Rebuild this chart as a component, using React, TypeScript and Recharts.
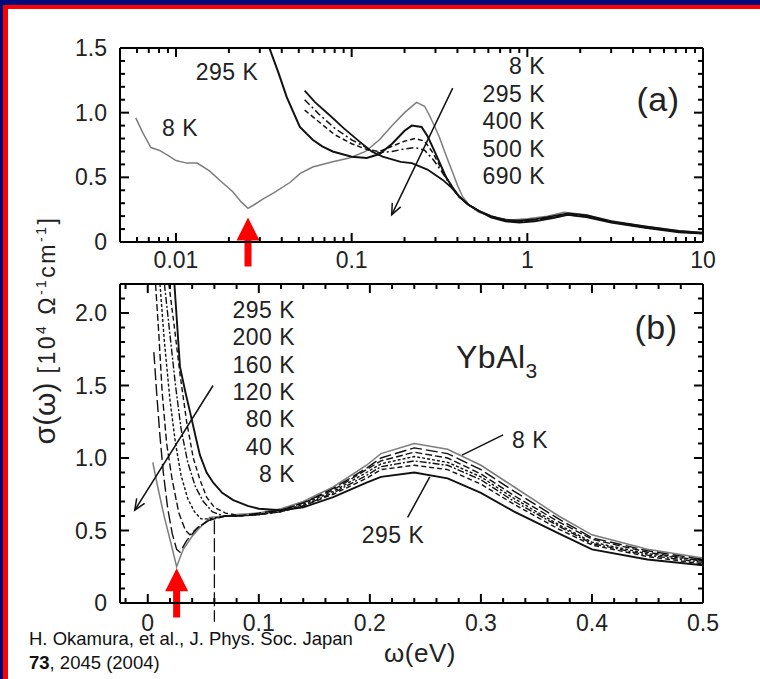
import React from 'react';
import { LineChart, Line, XAxis, YAxis, ReferenceLine } from 'recharts';

const FONT = "'Liberation Sans', Arial, Helvetica, sans-serif";
const INK = '#111';
const GRAY = '#7d7d7d';

// ---- panel (a): log energy axis ----
const aXDomain = [0.0048, 10];
const aYDomain = [0, 1.5];
const aXTicks = [0.006, 0.007, 0.008, 0.009, 0.01, 0.02, 0.03, 0.04, 0.05, 0.06, 0.07, 0.08, 0.09, 0.1, 0.2, 0.3, 0.4, 0.5, 0.6, 0.7, 0.8, 0.9, 1, 2, 3, 4, 5, 6, 7, 8, 9, 10];
const aXMajor = [0.01, 0.1, 1, 10];
const aYTicks = [0, 0.1, 0.2, 0.3, 0.4, 0.5, 0.6, 0.7, 0.8, 0.9, 1, 1.1, 1.2, 1.3, 1.4, 1.5];
const aYMajor = [0, 0.5, 1, 1.5];

const a8K = [[0.0059, 0.96], [0.0065, 0.84], [0.0072, 0.73], [0.008, 0.71], [0.009, 0.67], [0.01, 0.63], [0.0115, 0.61], [0.0132, 0.61], [0.0155, 0.55], [0.018, 0.47], [0.021, 0.39], [0.0235, 0.31], [0.0257, 0.26], [0.028, 0.29], [0.031, 0.33], [0.036, 0.38], [0.0445, 0.46], [0.051, 0.53], [0.06, 0.58], [0.078, 0.62], [0.097, 0.65], [0.12, 0.7], [0.144, 0.79], [0.17, 0.9], [0.2, 1.0], [0.234, 1.08], [0.26, 1.05], [0.277, 0.98], [0.3, 0.88], [0.316, 0.81], [0.34, 0.69], [0.37, 0.56], [0.4, 0.44], [0.428, 0.35], [0.47, 0.28], [0.53, 0.23], [0.66, 0.19], [0.8, 0.17], [1.0, 0.18], [1.3, 0.2], [1.62, 0.23], [2.15, 0.21], [2.9, 0.16], [4.7, 0.12], [7.3, 0.085], [10, 0.075]];
const a295K = [[0.034, 1.5], [0.0385, 1.3], [0.0427, 1.12], [0.0507, 0.89], [0.06, 0.79], [0.068, 0.74], [0.078, 0.7], [0.1, 0.66], [0.122, 0.65], [0.144, 0.68], [0.17, 0.76], [0.2, 0.86], [0.22, 0.9], [0.25, 0.89], [0.27, 0.82], [0.29, 0.73], [0.32, 0.6], [0.345, 0.5], [0.38, 0.41], [0.41, 0.35], [0.46, 0.29], [0.53, 0.24], [0.62, 0.2], [0.75, 0.17], [0.9, 0.165], [1.1, 0.175], [1.4, 0.2], [1.7, 0.22], [2.2, 0.205], [3, 0.16], [4.7, 0.12], [7.3, 0.085], [10, 0.07]];
const a400K = [[0.054, 1.02], [0.065, 0.93], [0.08, 0.83], [0.1, 0.76], [0.125, 0.71], [0.144, 0.7], [0.17, 0.74], [0.2, 0.78], [0.23, 0.8], [0.26, 0.78], [0.29, 0.69], [0.32, 0.58], [0.345, 0.5], [0.38, 0.41], [0.41, 0.35], [0.46, 0.29], [0.53, 0.24], [0.62, 0.2], [0.75, 0.17], [0.9, 0.16], [1.1, 0.17], [1.4, 0.195], [1.7, 0.215], [2.2, 0.2], [3, 0.16], [4.7, 0.115], [7.3, 0.08], [10, 0.07]];
const a500K = [[0.054, 1.1], [0.065, 0.99], [0.08, 0.88], [0.1, 0.79], [0.125, 0.72], [0.144, 0.69], [0.17, 0.7], [0.2, 0.72], [0.23, 0.73], [0.26, 0.71], [0.29, 0.64], [0.32, 0.56], [0.345, 0.49], [0.38, 0.41], [0.41, 0.35], [0.46, 0.29], [0.53, 0.24], [0.62, 0.195], [0.75, 0.165], [0.9, 0.155], [1.1, 0.165], [1.4, 0.19], [1.7, 0.21], [2.2, 0.195], [3, 0.155], [4.7, 0.11], [7.3, 0.08], [10, 0.065]];
const a690K = [[0.054, 1.17], [0.062, 1.08], [0.075, 0.98], [0.09, 0.88], [0.11, 0.78], [0.13, 0.7], [0.15, 0.66], [0.19, 0.62], [0.22, 0.61], [0.27, 0.56], [0.33, 0.48], [0.37, 0.42], [0.41, 0.35], [0.46, 0.29], [0.53, 0.24], [0.62, 0.19], [0.75, 0.16], [0.9, 0.15], [1.1, 0.16], [1.4, 0.185], [1.7, 0.21], [2.2, 0.19], [3, 0.15], [4.7, 0.11], [7.3, 0.075], [10, 0.065]];

// ---- panel (b): linear energy axis ----
const bXDomain = [-0.025, 0.5];
const bYDomain = [0, 2.2];
const bXTicks = [-0.02, 0, 0.02, 0.04, 0.06, 0.08, 0.1, 0.12, 0.14, 0.16, 0.18, 0.2, 0.22, 0.24, 0.26, 0.28, 0.3, 0.32, 0.34, 0.36, 0.38, 0.4, 0.42, 0.44, 0.46, 0.48, 0.5];
const bXMajor = [0, 0.1, 0.2, 0.3, 0.4, 0.5];
const bYTicks = [0, 0.1, 0.2, 0.3, 0.4, 0.5, 0.6, 0.7, 0.8, 0.9, 1, 1.1, 1.2, 1.3, 1.4, 1.5, 1.6, 1.7, 1.8, 1.9, 2, 2.1, 2.2];
const bYMajor = [0, 0.5, 1, 1.5, 2];

const b8K = [[0.0045, 0.97], [0.009, 0.8], [0.015, 0.59], [0.0216, 0.39], [0.026, 0.25], [0.032, 0.37], [0.04, 0.46], [0.047, 0.52], [0.056, 0.59], [0.07, 0.6], [0.08, 0.61], [0.1, 0.62], [0.12, 0.65], [0.14, 0.7], [0.167, 0.8], [0.197, 0.95], [0.21, 1.03], [0.24, 1.1], [0.27, 1.06], [0.3, 0.95], [0.33, 0.8], [0.37, 0.6], [0.4, 0.47], [0.45, 0.37], [0.5, 0.31]];
const b40K = [[0.0055, 1.73], [0.008, 1.45], [0.011, 1.15], [0.014, 0.9], [0.018, 0.65], [0.022, 0.48], [0.026, 0.37], [0.029, 0.35], [0.035, 0.43], [0.045, 0.52], [0.055, 0.57], [0.07, 0.6], [0.08, 0.6], [0.1, 0.62], [0.12, 0.64], [0.14, 0.69], [0.167, 0.79], [0.197, 0.93], [0.21, 1.0], [0.24, 1.07], [0.27, 1.03], [0.3, 0.92], [0.33, 0.77], [0.37, 0.58], [0.4, 0.45], [0.45, 0.36], [0.5, 0.3]];
const b80K = [[0.007, 2.2], [0.01, 1.85], [0.013, 1.45], [0.017, 1.1], [0.022, 0.85], [0.028, 0.62], [0.034, 0.5], [0.038, 0.47], [0.045, 0.52], [0.055, 0.57], [0.07, 0.6], [0.08, 0.6], [0.1, 0.61], [0.12, 0.64], [0.14, 0.69], [0.167, 0.78], [0.197, 0.92], [0.21, 0.98], [0.24, 1.04], [0.27, 1.0], [0.3, 0.89], [0.33, 0.74], [0.37, 0.56], [0.4, 0.44], [0.45, 0.35], [0.5, 0.29]];
const b120K = [[0.011, 2.2], [0.015, 1.8], [0.02, 1.4], [0.025, 1.1], [0.03, 0.88], [0.036, 0.72], [0.042, 0.63], [0.048, 0.58], [0.055, 0.58], [0.07, 0.6], [0.08, 0.6], [0.1, 0.61], [0.12, 0.63], [0.14, 0.68], [0.167, 0.77], [0.197, 0.9], [0.21, 0.96], [0.24, 1.01], [0.27, 0.97], [0.3, 0.87], [0.33, 0.72], [0.37, 0.54], [0.4, 0.42], [0.45, 0.34], [0.5, 0.29]];
const b160K = [[0.015, 2.2], [0.02, 1.85], [0.025, 1.5], [0.03, 1.2], [0.036, 0.97], [0.043, 0.8], [0.05, 0.7], [0.058, 0.63], [0.068, 0.6], [0.08, 0.6], [0.1, 0.61], [0.12, 0.63], [0.14, 0.67], [0.167, 0.76], [0.197, 0.88], [0.21, 0.94], [0.24, 0.98], [0.27, 0.95], [0.3, 0.85], [0.33, 0.7], [0.37, 0.53], [0.4, 0.41], [0.45, 0.33], [0.5, 0.28]];
const b200K = [[0.019, 2.2], [0.024, 1.9], [0.029, 1.58], [0.035, 1.25], [0.041, 1.0], [0.047, 0.85], [0.053, 0.73], [0.06, 0.66], [0.07, 0.62], [0.085, 0.6], [0.1, 0.61], [0.12, 0.63], [0.14, 0.67], [0.167, 0.75], [0.197, 0.86], [0.21, 0.92], [0.24, 0.95], [0.27, 0.92], [0.3, 0.82], [0.33, 0.68], [0.37, 0.51], [0.4, 0.4], [0.45, 0.32], [0.5, 0.27]];
const b295K = [[0.024, 2.2], [0.029, 1.63], [0.034, 1.45], [0.038, 1.32], [0.043, 1.15], [0.047, 1.02], [0.053, 0.9], [0.059, 0.83], [0.067, 0.76], [0.077, 0.71], [0.09, 0.67], [0.1, 0.65], [0.12, 0.64], [0.14, 0.66], [0.167, 0.73], [0.197, 0.83], [0.21, 0.87], [0.24, 0.9], [0.27, 0.86], [0.3, 0.76], [0.33, 0.63], [0.37, 0.48], [0.4, 0.37], [0.45, 0.3], [0.5, 0.26]];

const aLegend = ['8 K', '295 K', '400 K', '500 K', '690 K'];
const bLegend = ['295 K', '200 K', '160 K', '120 K', '80 K', '40 K', '8 K'];

const toPts = (rows: number[][]) => rows.map(([x, y]) => ({ x, y }));
const near = (v: number, list: number[]) => list.some((m) => Math.abs(m - v) < 1e-6);
const fmtLin = (v: number) => (v === 0 ? '0' : v.toFixed(1));
const fmtLog = (v: number) => String(v);

const TICK = '#000';

// inward tick marks (major longer), labels on major ticks of left/bottom axes
const leftTick = (majors: number[], fmt: (v: number) => string) => (p: any) => {
  const v = p.payload.value;
  const big = near(v, majors);
  return (
    <g>
      <line x1={p.x + 13} y1={p.y} x2={p.x + 13 + (big ? 9 : 5)} y2={p.y} stroke={TICK} strokeWidth={2} />
      {big && (
        <text x={p.x} y={p.y} textAnchor="end" dominantBaseline="central" fontSize={23} fontFamily={FONT} fill="#222">
          {fmt(v)}
        </text>
      )}
    </g>
  );
};
const bottomTick = (majors: number[], fmt: (v: number) => string, gap: number) => (p: any) => {
  const v = p.payload.value;
  const big = near(v, majors);
  return (
    <g>
      <line x1={p.x} y1={p.y - gap} x2={p.x} y2={p.y - gap - (big ? 9 : 5)} stroke={TICK} strokeWidth={2} />
      {big && (
        <text x={p.x} y={p.y} textAnchor="middle" dominantBaseline="central" fontSize={23} fontFamily={FONT} fill="#222">
          {fmt(v)}
        </text>
      )}
    </g>
  );
};
const topTick = (majors: number[]) => (p: any) => (
  <line x1={p.x} y1={p.y} x2={p.x} y2={p.y + (near(p.payload.value, majors) ? 9 : 5)} stroke={TICK} strokeWidth={2} />
);
const rightTick = (majors: number[]) => (p: any) => (
  <line x1={p.x} y1={p.y} x2={p.x - (near(p.payload.value, majors) ? 9 : 5)} y2={p.y} stroke={TICK} strokeWidth={2} />
);

const pointer = (head: boolean) => (p: any) => {
  const { x1, y1, x2, y2 } = p;
  const a = Math.atan2(y2 - y1, x2 - x1);
  const L = 12;
  const h1 = [x2 - L * Math.cos(a - 0.4), y2 - L * Math.sin(a - 0.4)];
  const h2 = [x2 - L * Math.cos(a + 0.4), y2 - L * Math.sin(a + 0.4)];
  return (
    <g>
      <line x1={x1} y1={y1} x2={x2} y2={y2} stroke={INK} strokeWidth={1.5} />
      {head && <polyline points={`${h1} ${x2},${y2} ${h2}`} fill="none" stroke={INK} strokeWidth={1.5} />}
    </g>
  );
};

// big red marker arrow, tip at the segment end
const redArrow = (p: any) => {
  const { x2, y1, y2 } = p;
  const pts = [[x2, y2], [x2 + 11.5, y2 + 23], [x2 + 3.5, y2 + 23], [x2 + 3.5, y1], [x2 - 3.5, y1], [x2 - 3.5, y2 + 23], [x2 - 11.5, y2 + 23]];
  return <polygon points={pts.map((q) => q.join(',')).join(' ')} fill="#ff0000" />;
};

const Txt = ({ x, y, size = 23, anchor = 'middle', children, style }: any) => (
  <div
    style={{
      position: 'absolute', left: x, top: y, fontSize: size, fontFamily: FONT, color: '#222',
      whiteSpace: 'nowrap', lineHeight: 1, letterSpacing: 0.5,
      transform: `translate(${anchor === 'end' ? '-100%' : anchor === 'start' ? '0' : '-50%'}, -50%)`,
      ...style,
    }}
  >
    {children}
  </div>
);

const axisLine = { stroke: '#000', strokeWidth: 2 };

const App: React.FC = () => {
  const series = (rows: number[][], stroke: string, width: number, dash?: string) => (
    <Line data={toPts(rows)} dataKey="y" type="linear" stroke={stroke} strokeWidth={width} strokeDasharray={dash}
      dot={false} activeDot={false} isAnimationActive={false} />
  );

  return (
    <div style={{ position: 'absolute', left: 0, top: 0, width: 760, height: 679, background: '#fff', overflow: 'hidden' }}>
      {/* (a) */}
      <div style={{ position: 'absolute', left: 0, top: 0 }}>
        <LineChart width={760} height={280} margin={{ top: 47, right: 56, bottom: 0, left: 0 }}>
          <XAxis dataKey="x" type="number" scale="log" domain={aXDomain} allowDataOverflow ticks={aXTicks} interval={0}
            height={38} tickSize={0} tickMargin={18} tickLine={false} axisLine={axisLine}
            tick={bottomTick(aXMajor, fmtLog, 18)} />
          <XAxis xAxisId="t" orientation="top" dataKey="x" type="number" scale="log" domain={aXDomain} allowDataOverflow
            ticks={aXTicks} interval={0} height={1} tickSize={0} tickMargin={0} tickLine={false} axisLine={axisLine}
            tick={topTick(aXMajor)} />
          <YAxis type="number" domain={aYDomain} allowDataOverflow ticks={aYTicks} interval={0} width={120}
            tickSize={0} tickMargin={13} tickLine={false} axisLine={axisLine} tick={leftTick(aYMajor, fmtLin)} />
          <YAxis yAxisId="r" orientation="right" type="number" domain={aYDomain} allowDataOverflow ticks={aYTicks}
            interval={0} width={1} tickSize={0} tickMargin={0} tickLine={false} axisLine={axisLine}
            tick={rightTick(aYMajor)} />
          {series(a8K, GRAY, 1.5)}
          {series(a690K, INK, 1.8)}
          {series(a500K, INK, 1.5, '7 3 2 3')}
          {series(a400K, INK, 1.5, '5 3')}
          {series(a295K, INK, 2)}
          <ReferenceLine segment={[{ x: 0.376, y: 1.19 }, { x: 0.169, y: 0.21 }]} ifOverflow="visible" shape={pointer(true)} />
          <ReferenceLine segment={[{ x: 0.0257, y: -0.19 }, { x: 0.0257, y: 0.19 }]} ifOverflow="visible" shape={redArrow} />
        </LineChart>
      </div>

      {/* (b) */}
      <div style={{ position: 'absolute', left: 0, top: 270 }}>
        <LineChart width={760} height={409} margin={{ top: 13, right: 56, bottom: 0, left: 0 }}>
          <XAxis dataKey="x" type="number" domain={bXDomain} allowDataOverflow ticks={bXTicks} interval={0}
            height={76} tickSize={0} tickMargin={20} tickLine={false} axisLine={axisLine}
            tick={bottomTick(bXMajor, fmtLin, 20)} />
          <XAxis xAxisId="t" orientation="top" dataKey="x" type="number" domain={bXDomain} allowDataOverflow
            ticks={bXTicks} interval={0} height={1} tickSize={0} tickMargin={0} tickLine={false} axisLine={axisLine}
            tick={topTick(bXMajor)} />
          <YAxis type="number" domain={bYDomain} allowDataOverflow ticks={bYTicks} interval={0} width={120}
            tickSize={0} tickMargin={13} tickLine={false} axisLine={axisLine} tick={leftTick(bYMajor, fmtLin)} />
          <YAxis yAxisId="r" orientation="right" type="number" domain={bYDomain} allowDataOverflow ticks={bYTicks}
            interval={0} width={1} tickSize={0} tickMargin={0} tickLine={false} axisLine={axisLine}
            tick={rightTick(bYMajor)} />
          {series(b8K, GRAY, 1.5)}
          {series(b40K, INK, 1.4, '12 4')}
          {series(b80K, INK, 1.4, '7 3')}
          {series(b120K, INK, 1.4, '3 2')}
          {series(b160K, INK, 1.4, '7 2 2 2')}
          {series(b200K, INK, 1.4, '5 3')}
          {series(b295K, INK, 1.9)}
          <ReferenceLine segment={[{ x: 0.06, y: 0.57 }, { x: 0.06, y: -0.13 }]} ifOverflow="visible" stroke={INK}
            strokeWidth={1.3} strokeDasharray="14 4" />
          <ReferenceLine segment={[{ x: 0.0588, y: 1.5 }, { x: -0.0117, y: 0.64 }]} ifOverflow="visible" shape={pointer(true)} />
          <ReferenceLine segment={[{ x: 0.283, y: 1.02 }, { x: 0.32, y: 1.16 }]} ifOverflow="visible" shape={pointer(false)} />
          <ReferenceLine segment={[{ x: 0.254, y: 0.87 }, { x: 0.234, y: 0.59 }]} ifOverflow="visible" shape={pointer(false)} />
          <ReferenceLine segment={[{ x: 0.026, y: -0.1 }, { x: 0.026, y: 0.24 }]} ifOverflow="visible" shape={redArrow} />
        </LineChart>
      </div>

      {/* slide frame, drawn over the charts */}
      <div style={{ position: 'absolute', left: 0, top: 0, width: 760, height: 5, background: '#03087a' }} />
      <div style={{ position: 'absolute', left: 0, top: 5, width: 760, height: 4, background: '#ff0000' }} />
      <div style={{ position: 'absolute', left: 0, top: 0, width: 3, height: 679, background: '#03087a' }} />
      <div style={{ position: 'absolute', left: 3, top: 5, width: 5, height: 674, background: '#ff0000' }} />

      {/* annotations (a) */}
      <Txt x={227} y={72}>295 K</Txt>
      <Txt x={180} y={128}>8 K</Txt>
      {aLegend.map((t, i) => (
        <Txt key={t} x={545} y={66 + i * 27.5} anchor="end">{t}</Txt>
      ))}
      <Txt x={658} y={99} size={34}>(a)</Txt>

      {/* annotations (b) */}
      {bLegend.map((t, i) => (
        <Txt key={t} x={295} y={310 + i * 27.3} anchor="end">{t}</Txt>
      ))}
      <Txt x={656} y={327} size={34}>(b)</Txt>
      <Txt x={456} y={357} size={32} anchor="start">
        YbAl<span style={{ fontSize: 21, position: 'relative', top: 10 }}>3</span>
      </Txt>
      <Txt x={530} y={440}>8 K</Txt>
      <Txt x={393} y={535}>295 K</Txt>
      <Txt x={420} y={653} size={26}>ω(eV)</Txt>

      {/* y axis title */}
      <div style={{
        position: 'absolute', left: 45, top: 330, transform: 'translate(-50%, -50%) rotate(-90deg)',
        whiteSpace: 'nowrap', fontFamily: FONT, color: '#222', lineHeight: 1,
      }}>
        <span style={{ fontSize: 30 }}>σ(ω)</span>
        <span style={{ fontSize: 23, marginLeft: 9, letterSpacing: 2.5 }}>
          [10<span style={{ fontSize: 14, position: 'relative', top: -9 }}>4</span> Ω
          <span style={{ fontSize: 14, position: 'relative', top: -9 }}>-1</span>cm
          <span style={{ fontSize: 14, position: 'relative', top: -9 }}>-1</span>]
        </span>
      </div>

      {/* source */}
      <div style={{ position: 'absolute', left: 29, top: 627, fontFamily: FONT, fontSize: 18.5, color: '#111', lineHeight: '24px', whiteSpace: 'nowrap' }}>
        H. Okamura, et al., J. Phys. Soc. Japan
        <br />
        <b>73</b>, 2045 (2004)
      </div>
    </div>
  );
};

export default App;
